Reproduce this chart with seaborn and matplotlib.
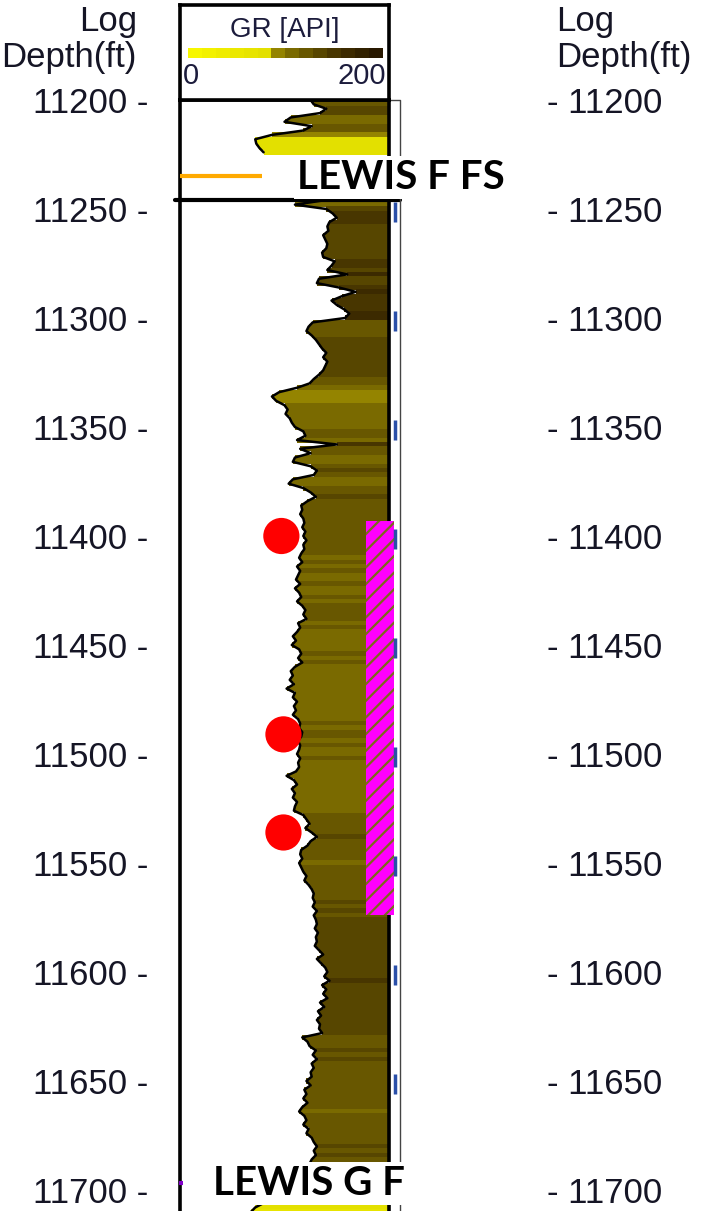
import numpy as np
import matplotlib
matplotlib.use("Agg")
import matplotlib.pyplot as plt
import seaborn as sns
from matplotlib.colors import ListedColormap, BoundaryNorm
from matplotlib.patches import Rectangle

# ---- data -------------------------------------------------------------
# GR log, upper interval (2 ft sampling from 11200 ft)
gr_top = [125, 128, 140, 134, 106, 100, 126, 118, 88, 72, 73, 76, 80]
top_start = 11200

# GR log, main interval (2 ft sampling from 11246 ft)
gr_main = [
    138, 110, 140, 146, 150, 143, 141, 142, 137, 139,
    141, 140, 136, 137, 148, 145, 141, 160, 133, 131,
    152, 168, 155, 145, 150, 157, 162, 158, 127, 123,
    121, 126, 130, 133, 136, 140, 137, 141, 139, 137,
    133, 128, 124, 112, 95, 88, 92, 100, 103, 101,
    105, 107, 110, 118, 120, 112, 150, 115, 125, 110,
    108, 125, 131, 128, 108, 104, 118, 125, 130, 122,
    116, 117, 115, 118, 119, 117, 120, 118, 121, 118,
    119, 116, 114, 117, 112, 115, 113, 111, 115, 110,
    114, 116, 112, 117, 120, 118, 121, 113, 115, 112,
    108, 111, 107, 114, 116, 113, 117, 110, 106, 108,
    105, 109, 102, 110, 108, 112, 109, 111, 108, 113,
    115, 114, 117, 116, 113, 115, 114, 112, 115, 113,
    114, 111, 102, 109, 112, 107, 110, 108, 112, 110,
    109, 118, 121, 124, 120, 126, 131, 125, 122, 116,
    115, 117, 114, 116, 118, 121, 119, 123, 126, 128,
    127, 129, 127, 131, 128, 130, 131, 129, 132, 130,
    131, 129, 133, 137, 131, 135, 139, 141, 138, 143,
    136, 140, 137, 141, 134, 138, 132, 135, 131, 134,
    133, 136, 117, 122, 124, 130, 127, 131, 126, 128,
    125, 126, 121, 125, 119, 121, 118, 122, 117, 114,
    119, 121, 118, 123, 121, 126, 128, 131, 128, 130,
    126, 124, 120, 118, 115, 112, 108, 104, 98, 90,
    80, 72, 68,
]
main_start = 11246
step_ft = 2

# point samples (GR, depth)
dot_gr = [97, 99, 99]
dot_depth = [11400, 11491, 11536]

# interval marker (top, base)
interval_top = 11393
interval_base = 11574

# formation tops
tops_names = ["LEWIS F FS", "LEWIS G F"]
tops_depth = [11235, 11697]

depth_ticks = list(range(11200, 11701, 50))

# GR colour scale, 0-200 API in 14 classes
gr_colors = ["#f7f700", "#f3f100", "#efec00", "#ebe800", "#e7e400", "#e3e000",
             "#948400", "#7a6a00", "#685700", "#574600", "#483600", "#3c2a00",
             "#312100", "#281800"]

# ---- figure -----------------------------------------------------------
sns.set_theme(style="white")
plt.rcParams["font.family"] = ["Liberation Sans", "DejaVu Sans"]
plt.rcParams["hatch.linewidth"] = 1.6

W, H = 710, 1211
fig = plt.figure(figsize=(W / 100, H / 100), dpi=100)
fig.patch.set_facecolor("white")

px_per_ft = 2.18
y_top_px = 100
d_min = 11200
d_max = d_min + (H - y_top_px) / px_per_ft

trk_x0, trk_x1 = 180, 389
ax = fig.add_axes([trk_x0 / W, 0, (trk_x1 - trk_x0) / W, (H - y_top_px) / H])
axh = fig.add_axes([trk_x0 / W, (H - y_top_px) / H, (trk_x1 - trk_x0) / W, 95 / H])

cmap = ListedColormap(gr_colors)
norm = BoundaryNorm(np.linspace(0, 200, len(gr_colors) + 1), cmap.N)

ax.set_xlim(0, 200)
ax.set_ylim(d_max, d_min)
ax.set_facecolor("white")

segments = [(top_start, np.array(gr_top, float)), (main_start, np.array(gr_main, float))]
for start, gr in segments:
    depth = start + step_ft * np.arange(len(gr))
    ax.barh(depth, 200 - gr, left=gr, height=step_ft * 1.15, color=cmap(norm(gr)),
            linewidth=0, zorder=1)
    sns.lineplot(x=gr, y=depth, sort=False, estimator=None, color="black",
                 lw=1.8, ax=ax, zorder=2)

# formation-top lines
ax.plot([0, 78], [tops_depth[0], tops_depth[0]], color="#ffaa00", lw=3, zorder=3,
        solid_capstyle="butt")
ax.plot([-1, 3], [tops_depth[1], tops_depth[1]], color="#8000c8", lw=3, zorder=3,
        clip_on=False, solid_capstyle="butt")

# interval bar
ax.add_patch(Rectangle((178, interval_top), 27, interval_base - interval_top,
                       facecolor="#ff00ff", edgecolor="#7c6a1c", hatch="//",
                       linewidth=0, zorder=4, clip_on=False))

# sample points
sns.scatterplot(x=dot_gr, y=dot_depth, s=680, color="#ff0000", edgecolor="none",
                ax=ax, zorder=5, clip_on=False, legend=False)

# frames
ax.plot([-4.8, 210.5], [11246, 11246], color="black", lw=3, clip_on=False, zorder=6)
ax.plot([200, 210.5, 210.5], [d_min, d_min, d_max], color="#444444", lw=1,
        clip_on=False, zorder=6)
for d in depth_ticks[1:]:
    ax.plot([205.5, 205.5], [d - 3, d + 6], color="#2a4fa8", lw=2.5,
            clip_on=False, zorder=6, solid_capstyle="butt")

for side in ["top", "left", "right"]:
    ax.spines[side].set_visible(True)
    ax.spines[side].set_color("black")
    ax.spines[side].set_linewidth(2.6)
ax.spines["bottom"].set_visible(False)
ax.set_xticks([])
ax.set_xlabel("")
ax.set_ylabel("")

label_color = "#151525"
ax.set_yticks(depth_ticks)
ax.set_yticklabels([f"{d} -" for d in depth_ticks], fontsize=25, color=label_color)
ax.tick_params(axis="y", length=0, pad=23)

ax2 = ax.twinx()
ax2.set_ylim(d_max, d_min)
ax2.set_yticks(depth_ticks)
ax2.set_yticklabels([f"- {d}" for d in depth_ticks], fontsize=25, color=label_color)
ax2.tick_params(axis="y", length=0, pad=114)
for s in ax2.spines.values():
    s.set_visible(False)
ax2.grid(False)
ax.grid(False)

# formation-top names
for name, xg, yb in [(tops_names[0], 112, 11240.8), (tops_names[1], 31.6, 11702.3)]:
    ax.text(xg, yb, name, fontsize=29, fontweight="bold", family=["Lato", "DejaVu Sans"],
            color="black", ha="left", va="baseline", zorder=8, clip_on=False,
            bbox=dict(facecolor="white", edgecolor="none", pad=2))

# header
axh.set_xlim(0, 200)
axh.set_ylim(0, 1)
axh.set_xticks([])
axh.set_yticks([])
axh.grid(False)
for s in axh.spines.values():
    s.set_visible(True)
    s.set_color("black")
    s.set_linewidth(2.6)
edges = np.linspace(7.7, 194, len(gr_colors) + 1)
axh.barh(0.495, np.diff(edges), left=edges[:-1], height=0.105, color=gr_colors,
         linewidth=0)
axh.text(100, 0.737, "GR [API]", fontsize=20, color="#1c1c3c", ha="center", va="center")
axh.text(3, 0.25, "0", fontsize=21, color="#1c1c3c", ha="left", va="center")
axh.text(197, 0.25, "200", fontsize=21, color="#1c1c3c", ha="right", va="center")

# depth-axis titles
for x, ha in [(137, "right"), (556, "left")]:
    fig.text(x / W, 1 - 22 / H, "Log", fontsize=25, color=label_color, ha=ha, va="center")
    fig.text(x / W, 1 - 57 / H, "Depth(ft)", fontsize=25, color=label_color, ha=ha, va="center")

fig.savefig("out.png", dpi=100, facecolor="white")
